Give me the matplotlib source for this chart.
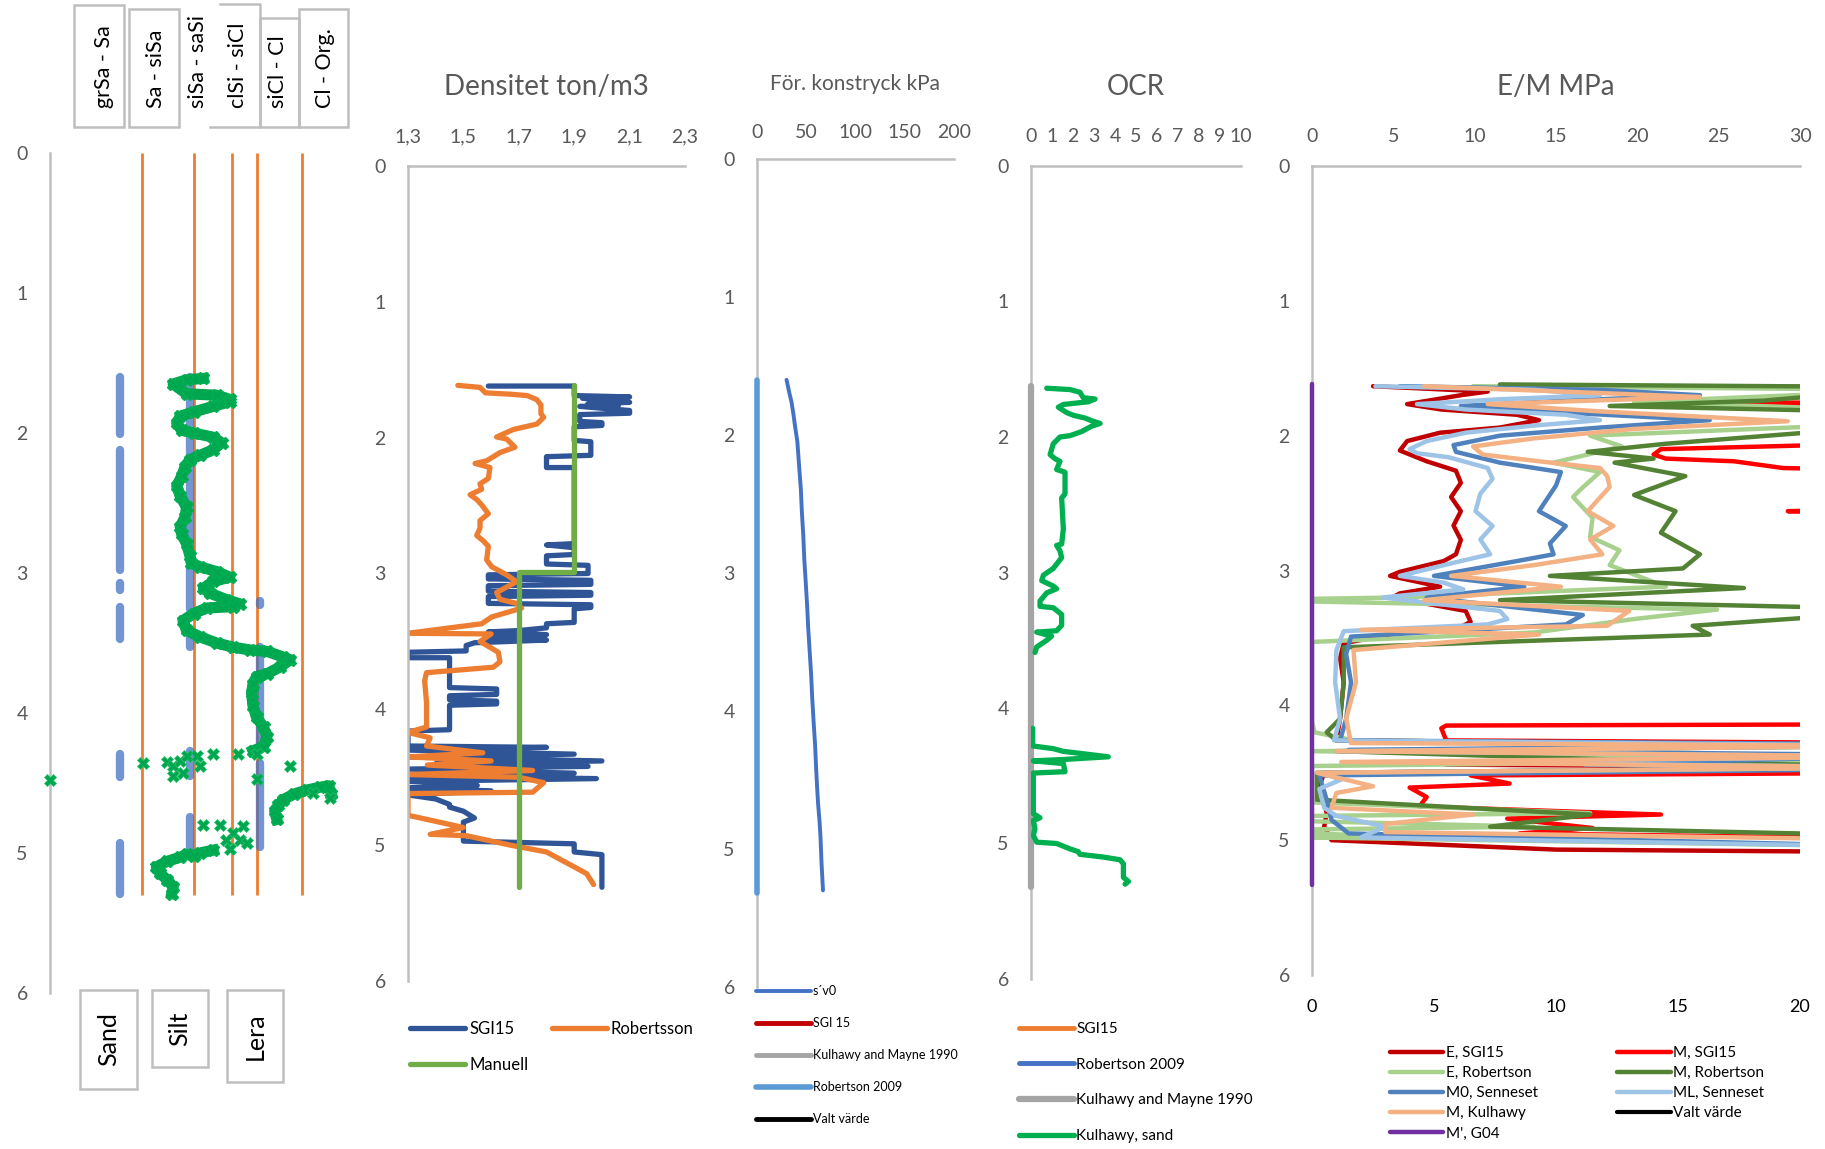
import matplotlib
matplotlib.use('Agg')
import matplotlib.pyplot as plt
from matplotlib.patches import Rectangle
from matplotlib.lines import Line2D
import numpy as np

plt.rcParams['font.family'] = ['Lato', 'DejaVu Sans']

# ---------------- DATA ----------------
DEPTH_TICKS = [0, 1, 2, 3, 4, 5, 6]

# Panel 1: soil behaviour index Ic and soil type
IC_BOUNDS = [1.31, 2.05, 2.6, 2.95, 3.6]
IC_BOUND_END = 5.3
TOP_LABELS = ['grSa - Sa', 'Sa - siSa', 'siSa - saSi', 'clSi - siCl', 'siCl - Cl', 'Cl - Org.']
SOIL_LABELS = ['Sand', 'Silt', 'Lera']
SAND_SEGMENTS = [(1.60, 2.01), (2.12, 2.98), (3.07, 3.12), (3.24, 3.47), (4.29, 4.46), (4.93, 5.29)]
SILT_SEGMENTS = [(1.60, 3.26), (3.43, 3.53), (4.27, 4.45), (4.74, 4.99)]
LERA_SEGMENTS = [(3.20, 3.23), (3.53, 4.26), (4.36, 4.96)]

IC_MAIN_DEPTH = [1.61, 1.62, 1.65, 1.72, 1.73, 1.76, 1.776, 1.81, 1.85, 1.88, 1.93, 1.98, 2.0, 2.03, 2.07,
                 2.12, 2.16, 2.19, 2.24, 2.31, 2.38, 2.45, 2.53, 2.60, 2.67, 2.72, 2.79, 2.88, 2.93, 2.955,
                 2.99, 3.03, 3.06, 3.11, 3.145, 3.19, 3.22, 3.24, 3.25, 3.29, 3.34, 3.41, 3.455, 3.50, 3.53,
                 3.55, 3.56, 3.60, 3.62, 3.67, 3.72, 3.74, 3.79, 3.86, 3.95, 4.03, 4.10, 4.17, 4.24, 4.27]
IC_MAIN_VAL = [2.19, 1.95, 1.76, 1.95, 2.38, 2.57, 2.57, 2.33, 2.05, 1.86, 1.81, 1.88, 2.05, 2.33, 2.45,
               2.33, 2.14, 2.0, 1.93, 1.88, 1.81, 1.86, 1.95, 1.93, 1.86, 1.88, 1.95, 2.0, 2.02, 2.14,
               2.38, 2.57, 2.33, 2.19, 2.29, 2.52, 2.71, 2.62, 2.24, 2.05, 1.90, 1.95, 2.14, 2.38, 2.62,
               2.86, 3.10, 3.33, 3.43, 3.29, 3.10, 2.95, 2.90, 2.88, 2.90, 2.95, 3.05, 3.10, 3.05, 2.90]
IC_CLAY_DEPTH = [4.76, 4.70, 4.66, 4.62, 4.58, 4.55, 4.53, 4.52, 4.58]
IC_CLAY_VAL = [3.24, 3.21, 3.26, 3.33, 3.48, 3.67, 3.86, 3.98, 4.02]
IC_END_DEPTH = [4.98, 5.00, 5.02, 5.01, 5.03, 5.06, 5.10, 5.145, 5.19, 5.24, 5.29]
IC_END_VAL = [2.33, 2.14, 2.05, 1.95, 1.86, 1.67, 1.52, 1.57, 1.67, 1.76, 1.74]
IC_SCATTER_DEPTH = [4.36, 4.35, 4.38, 4.34, 4.31, 4.31, 4.38, 4.45, 4.43, 4.29, 4.29, 4.47, 4.38, 4.48,
                    4.80, 4.80, 4.86, 4.81, 4.91, 4.91, 4.93, 4.97, 4.29, 4.61, 4.57]
IC_SCATTER_VAL = [1.33, 1.67, 1.76, 1.86, 1.95, 2.10, 2.14, 1.76, 1.90, 2.33, 2.69, 2.95, 3.43, 0.0,
                  2.19, 2.43, 2.62, 2.76, 2.71, 2.52, 2.81, 2.57, 2.95, 4.0, 3.76]

# Panel 2: density (ton/m3)
DENS_TICKS = [1.3, 1.5, 1.7, 1.9, 2.1, 2.3]
DENS_TICK_LABELS = ['1,3', '1,5', '1,7', '1,9', '2,1', '2,3']
DENS_SGI_DEPTH = [1.62, 1.62, 1.69, 1.70, 1.71, 1.74, 1.75, 1.76, 1.77, 1.80, 1.82, 1.83, 1.88, 1.89, 1.91,
                  1.92, 2.02, 2.03, 2.13, 2.14, 2.22, 2.22, 2.78, 2.79, 2.81, 2.86, 2.87, 2.93, 2.94, 3.00,
                  3.01, 3.04, 3.05, 3.08, 3.09, 3.13, 3.14, 3.16, 3.17, 3.22, 3.23, 3.25, 3.26, 3.36, 3.37,
                  3.40, 3.42, 3.43, 3.45, 3.47, 3.49, 3.51, 3.53, 3.57, 3.58, 3.62, 3.62, 3.84, 3.85, 3.89,
                  3.90, 3.93, 3.94, 3.96, 3.97, 4.15, 4.16, 4.27, 4.28, 4.30, 4.33, 4.35, 4.38, 4.40, 4.42,
                  4.44, 4.47, 4.49, 4.51, 4.53, 4.56, 4.58, 4.60, 4.63, 4.66, 4.70, 4.72, 4.75, 4.80, 4.83,
                  4.97, 4.99, 5.05, 5.07, 5.31]
DENS_SGI_VAL = [1.59, 1.90, 1.90, 2.10, 1.93, 2.10, 1.95, 2.06, 1.92, 2.10, 2.10, 1.92, 1.92, 2.00, 2.00,
                1.90, 1.90, 1.96, 1.96, 1.80, 1.80, 1.90, 1.90, 1.80, 1.90, 1.90, 1.80, 1.80, 1.95, 1.95,
                1.59, 1.59, 1.96, 1.96, 1.59, 1.59, 1.96, 1.96, 1.59, 1.59, 1.96, 1.96, 1.90, 1.90, 1.80,
                1.80, 1.70, 1.59, 1.80, 1.59, 1.80, 1.54, 1.51, 1.51, 1.30, 1.30, 1.45, 1.45, 1.62, 1.62,
                1.45, 1.45, 1.62, 1.62, 1.45, 1.45, 1.30, 1.30, 1.80, 1.30, 1.90, 1.30, 2.00, 1.40, 1.95,
                1.30, 1.90, 1.30, 1.98, 1.30, 1.55, 1.30, 1.60, 1.30, 1.40, 1.45, 1.45, 1.50, 1.54, 1.50,
                1.50, 1.90, 1.90, 2.00, 2.00]
DENS_ROB_DEPTH = [1.615, 1.63, 1.67, 1.68, 1.69, 1.72, 1.76, 1.825, 1.85, 1.90, 1.94, 1.995, 2.01, 2.07,
                  2.11, 2.17, 2.19, 2.22, 2.30, 2.34, 2.38, 2.42, 2.455, 2.495, 2.56, 2.61, 2.665, 2.72,
                  2.76, 2.80, 2.90, 2.95, 3.01, 3.06, 3.14, 3.19, 3.22, 3.255, 3.32, 3.37, 3.44, 3.445,
                  3.50, 3.58, 3.65, 3.69, 3.73, 3.79, 3.95, 4.13, 4.17, 4.21, 4.27, 4.32, 4.35, 4.38, 4.41,
                  4.45, 4.48, 4.50, 4.54, 4.61, 4.62, 4.78, 4.82, 4.87, 4.92, 4.93, 5.00, 5.05, 5.09, 5.16,
                  5.21, 5.29]
DENS_ROB_VAL = [1.48, 1.56, 1.58, 1.67, 1.73, 1.765, 1.78, 1.78, 1.79, 1.765, 1.68, 1.62, 1.656, 1.686,
                1.632, 1.584, 1.542, 1.596, 1.59, 1.56, 1.566, 1.524, 1.548, 1.566, 1.59, 1.56, 1.56, 1.548,
                1.572, 1.59, 1.584, 1.602, 1.656, 1.692, 1.62, 1.632, 1.692, 1.71, 1.602, 1.566, 1.30, 1.60,
                1.56, 1.626, 1.632, 1.608, 1.367, 1.36, 1.367, 1.367, 1.30, 1.38, 1.367, 1.57, 1.30, 1.60, 1.37,
                1.75, 1.30, 1.70, 1.79, 1.75, 1.30, 1.30, 1.39, 1.50, 1.38, 1.51, 1.67, 1.80, 1.836, 1.90,
                1.945, 1.97]
DENS_MAN_DEPTH = [1.61, 2.99, 2.99, 5.31]
DENS_MAN_VAL = [1.90, 1.90, 1.70, 1.70]

# Panel 3: pre-consolidation pressure (kPa)
PC_TICKS = [0, 50, 100, 150, 200]
SV0_DEPTH = [1.60, 1.70, 1.76, 1.85, 1.93, 2.05, 2.20, 2.39, 2.55, 2.73, 2.90, 3.07, 3.25, 3.40, 3.57, 3.74,
             3.90, 4.08, 4.25, 4.41, 4.55, 4.67, 4.80, 4.92, 5.10, 5.30]
SV0_VAL = [30, 33, 35, 37, 38.5, 41, 42.5, 44.5, 45.5, 47, 48, 49.5, 51, 52, 53.5, 55, 56, 57.5, 59, 60,
           61, 62, 63.5, 64.5, 65.5, 67]
PC_ROB_DEPTH = [1.60, 5.32]
PC_ROB_VAL = [0, 0]

# Panel 4: OCR
OCR_TICKS = list(range(0, 11))
OCR_KM_DEPTH = [1.62, 5.32]
OCR_KM_VAL = [0, 0]
OCR_SAND_DEPTH = [1.64, 1.65, 1.67, 1.71, 1.72, 1.74, 1.76, 1.78, 1.82, 1.84, 1.86, 1.88, 1.90, 1.92, 1.96,
                  1.99, 2.00, 2.05, 2.13, 2.16, 2.18, 2.24, 2.26, 2.42, 2.45, 2.68, 2.79, 2.80, 2.84, 2.89,
                  2.97, 3.02, 3.06, 3.10, 3.12, 3.15, 3.21, 3.25, 3.26, 3.31, 3.39, 3.43, 3.44, 3.47, 3.50,
                  3.55, 3.59, np.nan, 4.15, 4.28, 4.30, 4.32, 4.36, 4.38, 4.39, 4.41, 4.47, 4.48, 4.78,
                  4.81, 4.83, 4.89, 4.94, 4.99, 5.00, 5.04, 5.06, 5.08, 5.10, 5.12, 5.15, 5.25, 5.28, 5.30]
OCR_SAND_VAL = [0.75, 1.86, 2.33, 2.49, 3.05, 2.73, 1.54, 1.30, 1.70, 2.02, 2.57, 2.89, 3.29, 2.89, 2.41,
                1.86, 1.38, 1.06, 0.91, 1.14, 1.38, 1.22, 1.62, 1.62, 1.46, 1.54, 1.46, 1.22, 1.38, 1.46,
                1.06, 0.59, 0.51, 1.06, 1.22, 0.75, 0.43, 0.43, 1.06, 1.46, 1.46, 1.22, 0.27, 0.98, 0.75,
                0.27, 0.19, np.nan, 0.08, 0.08, 1.06, 1.54, 3.68, 1.54, 0.11, 1.54, 1.62, 0.11, 0.11,
                0.43, 0.11, 0.19, 0.11, 0.27, 1.22, 1.86, 2.25, 2.33, 3.44, 4.24, 4.40, 4.40, 4.64, 4.48]

# Panel 5: E / M modulus (MPa)
EM_TOP_TICKS = [0, 5, 10, 15, 20, 25, 30]
EM_BOTTOM_TICKS = [0, 5, 10, 15, 20]
E_SGI_DEPTH = [1.633, 1.673, 1.70, 1.766, 1.806, 1.845, 1.885, 1.94, 1.978, 2.04, 2.11, 2.19, 2.26, 2.35,
               2.455, 2.56, 2.667, 2.773, 2.879, 2.93, 3.01, 3.04, 3.12, 3.17, 3.20, 3.30, 3.38, 3.42, 3.46,
               3.54, 3.65, 3.83, 4.10, 4.26, 4.30, 4.40, 4.44, 4.46, 4.50, 4.60, 4.70, 4.80, 4.90, 5.00,
               5.07, 5.09, 5.12]
E_SGI_VAL = [2.5, 7.2, 6.1, 3.9, 5.3, 8.4, 9.3, 7.7, 5.25, 3.9, 3.6, 4.7, 5.9, 6.1, 5.7, 6.1, 5.8, 6.1, 5.9,
             5.4, 3.6, 3.2, 5.25, 3.6, 3.3, 6.3, 6.5, 6.1, 3.6, 1.3, 1.15, 1.3, 1.15, 1.0, 25, 25, 5.5, 25,
             0.5, 0.3, 0.5, 0.6, 0.5, 0.8, 10.0, 25, 25]
M_SGI_DEPTH = [1.633, 1.64, 1.75, 1.76, 1.78, 2.05, 2.10, 2.14, 2.17, 2.19, 2.24, 2.26, 2.54, 2.56, 2.58,
               4.14, 4.15, 4.17, 4.26, 4.28, 4.50, 4.52, 4.58, 4.61, 4.68, 4.75, 4.81, 4.84, 4.91, 4.95,
               4.99, 5.12]
M_SGI_VAL = [10.6, 25, 25, 14.5, 25, 25, 14.3, 14.0, 14.5, 17.3, 19.3, 25, 25, 19.5, 25,
             25, 5.5, 5.3, 5.5, 25, 25, 6.5, 8.1, 4.0, 4.7, 4.4, 14.3, 8.0, 11.5, 8.5, 25, 25]
E_ROB_DEPTH = [1.633, 1.66, 1.75, 1.82, 1.90, 2.0, 2.08, 2.20, 2.27, 2.40, 2.455, 2.61, 2.75, 2.85, 2.96,
               3.12, 3.20, 3.21, 3.23, 3.29, 3.36, 3.46, 3.53, 4.12, 4.20, 4.27, 4.30, 4.34, 4.40, 4.45,
               4.72, 4.80, 4.82, 4.86, 4.90, 4.92, 4.95, 4.97, 4.98, 5.05]
E_ROB_VAL = [6.6, 25, 13.2, 25, 25, 11.4, 12.7, 9.9, 11.8, 11.0, 10.7, 11.5, 11.4, 12.6, 12.2,
             14.5, 3.6, 0, 0, 16.6, 13.2, 9.1, 0, 0, 0.1, 2.0, 25, 0, 25, 0,
             0, 11.4, 0, 0, 9.1, 0, 0, 3.0, 0, 25]
M_ROB_DEPTH = [1.62, 1.64, 1.74, 1.78, 1.83, 1.91, 2.06, 2.12, 2.17, 2.20, 2.30, 2.44, 2.56, 2.72, 2.88,
               2.985, 3.04, 3.13, 3.22, 3.29, 3.41, 3.475, 3.57, 3.83, 4.10, 4.20, 4.26, 4.30, 4.34, 4.43,
               4.46, 4.50, 4.60, 4.70, 4.81, 4.90, 4.97, 5.12]
M_ROB_VAL = [7.7, 25, 18.5, 12.2, 25, 25, 14.5, 11.3, 14.0, 12.4, 15.3, 13.2, 14.9, 14.3, 15.9,
             15.2, 9.75, 17.7, 7.7, 25, 15.6, 16.3, 1.3, 1.3, 1.15, 0.6, 1.0, 25, 1.0, 17.5,
             25, 0.2, 0.2, 0.2, 11.4, 7.3, 25, 25]
M0_SEN_DEPTH = [1.633, 1.66, 1.70, 1.74, 1.78, 1.83, 1.885, 1.94, 2.0, 2.07, 2.12, 2.20, 2.27, 2.37, 2.56,
                2.67, 2.80, 2.88, 2.93, 3.04, 3.12, 3.20, 3.33, 3.40, 3.49, 3.62, 3.83, 4.10, 4.26, 4.29,
                4.33, 4.37, 4.44, 4.47, 4.52, 4.70, 4.85, 4.95, 5.05, 5.12]
M0_SEN_VAL = [3.6, 11.8, 15.9, 10.4, 6.1, 10.4, 16.3, 11.8, 7.7, 5.8, 5.9, 7.7, 10.2, 10.0, 9.3,
              10.4, 9.75, 9.9, 8.4, 5.0, 8.7, 4.7, 11.1, 10.4, 1.6, 1.4, 1.6, 1.4, 1.15, 25,
              1.5, 25, 11.2, 25, 0.3, 0.6, 0.8, 1.5, 25, 25]
ML_SEN_DEPTH = [1.633, 1.66, 1.70, 1.73, 1.766, 1.806, 1.845, 1.885, 1.925, 1.978, 2.04, 2.10, 2.13, 2.16,
                2.24, 2.32, 2.43, 2.56, 2.67, 2.77, 2.88, 2.93, 3.04, 3.09, 3.14, 3.20, 3.25, 3.30, 3.36,
                3.40, 3.45, 3.59, 3.83, 4.10, 4.26, 4.30, 4.34, 4.38, 4.42, 4.46, 4.50, 4.55, 4.62, 4.76,
                4.82, 4.90, 4.98, 5.05, 5.12]
ML_SEN_VAL = [2.6, 9.1, 11.8, 7.7, 4.3, 6.3, 10.4, 11.8, 9.1, 6.3, 4.7, 4.0, 4.3, 5.6,
              7.2, 7.4, 6.9, 6.7, 7.4, 6.9, 7.3, 6.1, 3.6, 5.4, 6.2, 2.9, 5.25, 7.7, 8.0,
              7.2, 1.3, 1.0, 0.95, 1.15, 0.9, 25, 1.0, 25, 4.0, 25, 0.3, 1.2, 0.3, 0.5,
              1.0, 3.0, 2.0, 25, 25]
M_KUL_DEPTH = [1.633, 1.713, 1.766, 1.82, 1.893, 1.95, 2.02, 2.08, 2.14, 2.19, 2.24, 2.30, 2.38, 2.56, 2.67,
               2.77, 2.88, 2.96, 3.04, 3.12, 3.22, 3.30, 3.41, 3.44, 3.475, 3.59, 3.83, 4.10, 4.28, 4.30,
               4.34, 4.38, 4.42, 4.46, 4.50, 4.60, 4.65, 4.76, 4.81, 4.88, 4.94, 5.00, 5.12]
M_KUL_VAL = [4.6, 15.9, 7.2, 11.8, 19.5, 13.2, 9.1, 6.6, 7.0, 9.3, 11.8, 12.1, 12.2, 11.3, 12.35,
             11.4, 11.9, 9.1, 5.7, 10.2, 4.6, 13.0, 12.1, 2.0, 9.3, 1.7, 1.8, 1.4, 1.6, 25,
             1.0, 25, 1.2, 25, 0.2, 2.5, 1.0, 0.8, 6.6, 3.0, 3.0, 25, 25]
M_G04_DEPTH = [1.62, 5.33]
M_G04_VAL = [0, 0]

# ---------------- FIGURE ----------------
W, H = 1825, 1149
fig = plt.figure(figsize=(W / 100, H / 100), dpi=100)
fig.patch.set_facecolor('white')

GRID = '#BFBFBF'
TXT = '#595959'


def fx(x):
    return x / W


def fy(y):
    return 1 - y / H


def axes_px(x0, y0, x1, y1, **kw):
    return fig.add_axes([x0 / W, 1 - y1 / H, (x1 - x0) / W, (y1 - y0) / H], **kw)


def style(ax, top=True, ypad=16, xpad=15):
    for s in ['right', 'bottom']:
        ax.spines[s].set_visible(False)
    ax.spines['left'].set_color(GRID)
    ax.spines['left'].set_linewidth(1.8)
    ax.spines['top'].set_visible(top)
    ax.spines['top'].set_color(GRID)
    ax.spines['top'].set_linewidth(1.8)
    ax.set_ylim(6, 0)
    ax.set_yticks(DEPTH_TICKS)
    ax.tick_params(axis='y', length=0, labelsize=14, labelcolor=TXT, pad=ypad)
    ax.xaxis.tick_top()
    ax.tick_params(axis='x', length=0, labelsize=14, labelcolor=TXT, pad=xpad)
    ax.patch.set_alpha(0)


# ---- Panel 1 ----
ax1 = axes_px(50, 153, 400, 993)
style(ax1, top=False)
ax1.set_xlim(0, 5)
ax1.set_xticks([])
ax1.vlines(IC_BOUNDS, 0, IC_BOUND_END, color='#ED7D31', lw=2)
for xval, segs in zip([1, 2, 3], [SAND_SEGMENTS, SILT_SEGMENTS, LERA_SEGMENTS]):
    ax1.vlines([xval] * len(segs), [s[0] for s in segs], [s[1] for s in segs],
               color='#4472C4', lw=6, alpha=0.75, capstyle='round')
GREEN_X = '#00A650'
for ics, dps in [(IC_MAIN_VAL, IC_MAIN_DEPTH), (IC_CLAY_VAL, IC_CLAY_DEPTH), (IC_END_VAL, IC_END_DEPTH)]:
    ax1.plot(ics, dps, color=GREEN_X, lw=8, marker='X', ms=9, mec='#00B050', mfc=GREEN_X, zorder=3)
ax1.scatter(IC_SCATTER_VAL, IC_SCATTER_DEPTH, marker='X', s=75, color=GREEN_X, edgecolor='#2BC46A',
            lw=0.5, zorder=3, clip_on=False)

# top labels boxes
box_kw = dict(transform=fig.transFigure, fill=False, edgecolor=GRID, lw=1.8)
for (x0, y0, x1, y1) in [(74, 5, 124, 127), (129, 9, 179, 127), (260, 18, 299, 127), (299, 9, 348, 127)]:
    fig.add_artist(Rectangle((fx(x0), fy(y1)), (x1 - x0) / W, (y1 - y0) / H, **box_kw))
fig.add_artist(Line2D([fx(220), fx(260), fx(260), fx(210)], [fy(4), fy(4), fy(127), fy(127)],
                      transform=fig.transFigure, color=GRID, lw=1.8))
for lab, cx in zip(TOP_LABELS, [104, 156, 198, 238, 278, 325]):
    fig.text(fx(cx), fy(108), lab, rotation=90, ha='center', va='bottom', fontsize=15.5, color='black')

# bottom soil labels
for lab, (x0, y0, x1, y1) in zip(SOIL_LABELS, [(80, 990, 137, 1089), (152, 990, 208, 1067), (227, 990, 283, 1082)]):
    fig.add_artist(Rectangle((fx(x0), fy(y1)), (x1 - x0) / W, (y1 - y0) / H, **box_kw))
    fig.text(fx((x0 + x1) / 2), fy((y0 + y1) / 2), lab, rotation=90, ha='center', va='center',
             fontsize=18, color='black')

# ---- Panel 2: density ----
ax2 = axes_px(408, 166, 685, 981)
style(ax2)
ax2.set_xlim(1.3, 2.3)
ax2.set_xticks(DENS_TICKS)
ax2.set_xticklabels(DENS_TICK_LABELS)
l_sgi, = ax2.plot(DENS_SGI_VAL, DENS_SGI_DEPTH, color='#2F5597', lw=3.8, label='SGI15', solid_capstyle='round')
l_rob, = ax2.plot(DENS_ROB_VAL, DENS_ROB_DEPTH, color='#ED7D31', lw=3.8, label='Robertsson', solid_capstyle='round')
l_man, = ax2.plot(DENS_MAN_VAL, DENS_MAN_DEPTH, color='#70AD47', lw=3.8, label='Manuell', solid_capstyle='round')
ax2.set_title('Densitet ton/m3', fontsize=20, color=TXT, pad=51)
ax2.legend(handles=[l_sgi, l_man, l_rob], ncol=2, loc='upper left', bbox_to_anchor=(fx(410), fy(1021)),
           bbox_transform=fig.transFigure, frameon=False, fontsize=12, handlelength=3.3, handletextpad=0.25,
           labelspacing=1.2, columnspacing=1.4, borderpad=0, borderaxespad=0)

# ---- Panel 3: pre-consolidation ----
ax3 = axes_px(757, 159, 954, 987)
style(ax3, xpad=13)
ax3.set_xlim(0, 200)
ax3.set_xticks(PC_TICKS)
l_rob09, = ax3.plot(PC_ROB_VAL, PC_ROB_DEPTH, color='#5B9BD5', lw=4, label='Robertson 2009',
                    solid_capstyle='round', clip_on=False, zorder=3)
l_sv0, = ax3.plot(SV0_VAL, SV0_DEPTH, color='#4472C4', lw=2.8, label='s´v0', solid_capstyle='round')
l_sgi3, = ax3.plot([], [], color='#C00000', lw=3.5, label='SGI 15', solid_capstyle='round')
l_km3, = ax3.plot([], [], color='#A5A5A5', lw=3.5, label='Kulhawy and Mayne 1990', solid_capstyle='round')
l_valt3, = ax3.plot([], [], color='black', lw=3.5, label='Valt värde', solid_capstyle='round')
ax3.set_title('För. konstryck kPa', fontsize=15, color=TXT, pad=50)
ax3.legend(handles=[l_sv0, l_sgi3, l_km3, l_rob09, l_valt3], ncol=1, loc='upper left',
           bbox_to_anchor=(fx(756), fy(985)), bbox_transform=fig.transFigure, frameon=False, fontsize=9,
           handlelength=4.4, handletextpad=0.15, labelspacing=1.6, borderpad=0, borderaxespad=0)

# ---- Panel 4: OCR ----
ax4 = axes_px(1031, 166, 1241, 979)
style(ax4)
ax4.set_xlim(0, 10)
ax4.set_xticks(OCR_TICKS)
l_km4, = ax4.plot(OCR_KM_VAL, OCR_KM_DEPTH, color='#A5A5A5', lw=4.5, label='Kulhawy and Mayne 1990',
                  solid_capstyle='round', clip_on=False, zorder=3)
l_sand4, = ax4.plot(OCR_SAND_VAL, OCR_SAND_DEPTH, color='#00B050', lw=3.8, label='Kulhawy, sand',
                    solid_capstyle='round', zorder=4)
l_sgi4, = ax4.plot([], [], color='#ED7D31', lw=3.5, label='SGI15', solid_capstyle='round')
l_rob4, = ax4.plot([], [], color='#4472C4', lw=3.5, label='Robertson 2009', solid_capstyle='round')
ax4.set_title('OCR', fontsize=20, color=TXT, pad=51)
ax4.legend(handles=[l_sgi4, l_rob4, l_km4, l_sand4], ncol=1, loc='upper left',
           bbox_to_anchor=(fx(1019), fy(1022)), bbox_transform=fig.transFigure, frameon=False, fontsize=11,
           handlelength=3.6, handletextpad=0.15, labelspacing=1.42, borderpad=0, borderaxespad=0)

# ---- Panel 5: E/M ----
ax5t = axes_px(1312, 166, 1800, 975)
style(ax5t)
ax5t.spines['left'].set_visible(False)
ax5t.set_xlim(0, 30)
ax5t.set_xticks(EM_TOP_TICKS)
ax5t.set_yticks([])
ax5t.set_title('E/M MPa', fontsize=20, color=TXT, pad=51)

ax5 = axes_px(1312, 166, 1800, 975)
style(ax5, top=False)
ax5.set_xlim(0, 20)
ax5.xaxis.tick_bottom()
ax5.set_xticks(EM_BOTTOM_TICKS)
ax5.tick_params(axis='x', length=0, labelsize=13, labelcolor='black', pad=17)
EMS = [
    (M_G04_VAL, M_G04_DEPTH, '#7030A0', "M', G04"),
    (E_SGI_VAL, E_SGI_DEPTH, '#C00000', 'E, SGI15'),
    (M_SGI_VAL, M_SGI_DEPTH, '#FF0000', 'M, SGI15'),
    (E_ROB_VAL, E_ROB_DEPTH, '#A9D18E', 'E, Robertson'),
    (M_ROB_VAL, M_ROB_DEPTH, '#548235', 'M, Robertson'),
    (M0_SEN_VAL, M0_SEN_DEPTH, '#4F81BD', 'M0, Senneset'),
    (ML_SEN_VAL, ML_SEN_DEPTH, '#9DC3E6', 'ML, Senneset'),
    (M_KUL_VAL, M_KUL_DEPTH, '#F4B183', 'M, Kulhawy'),
]
hd = {}
for v, d, c, lab in EMS:
    is_g04 = (lab == "M', G04")
    hd[lab], = ax5.plot(v, d, color=c, lw=3.2, label=lab, solid_capstyle='round',
                        clip_on=not is_g04, zorder=3 if is_g04 else 2)
hd['Valt värde'], = ax5.plot([], [], color='black', lw=3, label='Valt värde', solid_capstyle='round')
order = ['E, SGI15', 'E, Robertson', 'M0, Senneset', 'M, Kulhawy', "M', G04",
         'M, SGI15', 'M, Robertson', 'ML, Senneset', 'Valt värde']
ax5.legend(handles=[hd[k] for k in order], ncol=2, loc='upper left', bbox_to_anchor=(fx(1390), fy(1046)),
           bbox_transform=fig.transFigure, frameon=False, fontsize=11, handlelength=3.5, handletextpad=0.15,
           labelspacing=0.4, columnspacing=5.2, borderpad=0, borderaxespad=0)

fig.savefig('out.png', dpi=100, facecolor='white')
